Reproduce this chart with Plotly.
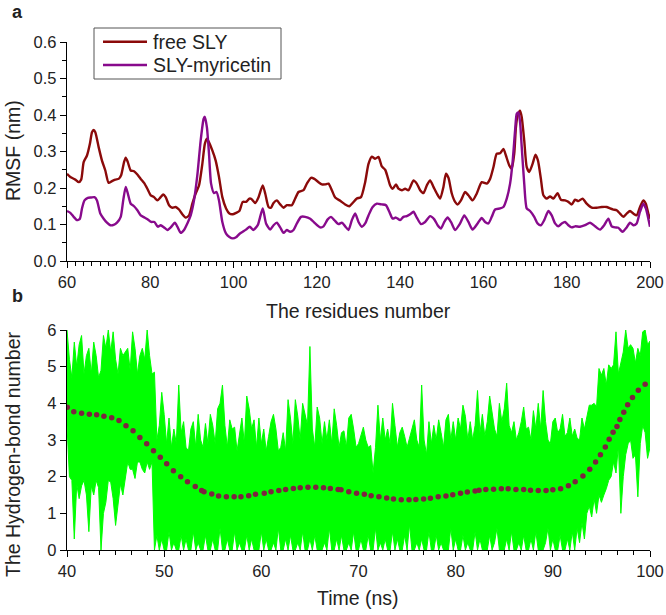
import plotly.graph_objects as go

# ---------------- panel a: RMSF ----------------
free_res = [60, 60.8, 62.0, 62.8, 63.4, 64.0, 64.8, 65.5, 66.0, 66.4, 66.8, 67.6, 68.4, 69.2, 70.0,
            70.8, 71.6, 72.4, 73.0, 73.7, 74.1, 74.6, 75.3, 76.1, 76.9, 77.7, 78.5, 79.3, 80.1, 80.9,
            81.7, 82.5, 83.1, 83.7, 84.5, 85.3, 86.1, 86.9, 87.7, 88.5, 89.3, 90.1, 90.9, 91.7, 92.5,
            93.1, 93.6, 94.1, 94.9, 95.7, 96.5, 97.3, 98.2, 99.0, 99.8, 100.6, 101.4, 102.2, 103.0,
            103.8, 104.3, 105.2, 106.0, 107.0, 107.6, 108.4, 109.0, 109.6, 110.4, 111.2, 112.0,
            112.8, 114.0, 114.8, 115.6, 116.8, 117.6, 118.6, 119.4, 120.4, 121.2, 122.0, 122.8,
            123.6, 124.4, 125.6, 126.8, 127.8, 128.6, 129.6, 130.6, 131.6, 132.4, 133.2, 134.0,
            134.8, 135.6, 136.4, 137.0, 137.6, 138.2, 139.0, 139.6, 140.4, 141.2, 142.0, 143.2,
            144.0, 144.8, 145.6, 146.4, 147.2, 148.0, 148.8, 149.6, 150.4, 151.0, 151.6, 152.4,
            153.2, 153.8, 154.6, 155.6, 156.4, 157.4, 158.4, 159.6, 160.8, 161.6, 162.4, 163.2,
            164.0, 164.8, 165.4, 166.2, 166.8, 167.4, 167.8, 168.2, 168.8, 169.2, 169.8, 170.4,
            171.0, 171.8, 172.5, 173.1, 173.8, 174.4, 175.2, 176.0, 176.8, 177.8, 178.6, 179.6,
            180.4, 181.2, 182.0, 182.8, 183.8, 184.8, 186.0, 187.2, 188.4, 189.6, 190.4, 191.2,
            192.0, 192.8, 193.6, 194.4, 195.2, 196.0, 196.8, 197.6, 198.4, 199.0, 199.6, 200.0]
free_rmsf = [0.239, 0.230, 0.223, 0.216, 0.223, 0.271, 0.289, 0.321, 0.353, 0.359, 0.353, 0.312, 0.275,
             0.248, 0.214, 0.219, 0.223, 0.225, 0.235, 0.271, 0.283, 0.271, 0.248, 0.246, 0.237, 0.225,
             0.214, 0.198, 0.180, 0.175, 0.166, 0.175, 0.182, 0.175, 0.153, 0.146, 0.148, 0.141, 0.128,
             0.119, 0.125, 0.157, 0.185, 0.207, 0.266, 0.321, 0.335, 0.325, 0.303, 0.275, 0.230, 0.175,
             0.144, 0.130, 0.128, 0.132, 0.137, 0.162, 0.162, 0.171, 0.170, 0.159, 0.175, 0.207, 0.185,
             0.148, 0.146, 0.159, 0.166, 0.155, 0.146, 0.153, 0.153, 0.171, 0.189, 0.194, 0.212, 0.228,
             0.225, 0.216, 0.210, 0.210, 0.212, 0.194, 0.174, 0.165, 0.155, 0.150, 0.159, 0.171, 0.175,
             0.216, 0.266, 0.286, 0.280, 0.285, 0.259, 0.250, 0.230, 0.207, 0.198, 0.210, 0.198, 0.194,
             0.198, 0.194, 0.221, 0.212, 0.194, 0.186, 0.207, 0.221, 0.203, 0.185, 0.171, 0.203, 0.239,
             0.228, 0.185, 0.162, 0.155, 0.166, 0.189, 0.180, 0.166, 0.185, 0.216, 0.212, 0.225, 0.257,
             0.294, 0.295, 0.307, 0.289, 0.262, 0.253, 0.294, 0.366, 0.398, 0.412, 0.394, 0.330, 0.257,
             0.244, 0.266, 0.291, 0.275, 0.225, 0.180, 0.171, 0.177, 0.171, 0.186, 0.168, 0.166, 0.162,
             0.155, 0.168, 0.164, 0.171, 0.157, 0.146, 0.146, 0.148, 0.148, 0.144, 0.141, 0.139, 0.130,
             0.121, 0.130, 0.137, 0.130, 0.125, 0.148, 0.166, 0.157, 0.130, 0.116]

myr_res = [60, 60.8, 61.6, 62.4, 63.1, 63.6, 64.2, 65.0, 65.8, 66.6, 67.2, 68.0, 68.8, 69.6, 70.4,
           71.2, 72.0, 72.9, 73.5, 74.1, 74.6, 75.3, 76.1, 76.9, 77.7, 78.6, 79.4, 80.2, 81.0, 81.8,
           82.5, 83.3, 84.1, 84.9, 85.9, 86.5, 87.3, 88.1, 88.9, 89.7, 90.5, 91.3, 92.1, 92.8, 93.1,
           93.6, 94.1, 94.6, 95.3, 95.9, 96.5, 97.3, 98.2, 99.0, 99.8, 100.6, 101.4, 102.2, 103.0,
           103.9, 104.7, 105.8, 107.0, 107.8, 108.8, 109.6, 110.4, 111.2, 112.0, 112.8, 113.6,
           114.4, 115.2, 116.2, 117.2, 118.4, 119.6, 120.8, 121.6, 122.6, 123.4, 124.2, 125.2,
           126.0, 126.8, 127.6, 128.4, 129.2, 130.0, 130.8, 131.6, 132.4, 133.4, 134.4, 135.6,
           136.6, 137.4, 138.2, 139.0, 140.0, 140.8, 141.6, 142.4, 143.2, 144.0, 145.0, 146.0,
           147.2, 148.2, 149.0, 149.8, 150.6, 151.4, 152.2, 153.2, 154.4, 155.4, 156.4, 157.4,
           158.6, 159.6, 160.4, 161.2, 162.0, 162.8, 164.0, 164.8, 165.6, 166.4, 167.0, 167.6,
           168.0, 168.4, 168.8, 169.2, 169.8, 170.4, 171.2, 172.2, 173.0, 173.8, 174.6, 175.6,
           176.4, 177.2, 178.0, 178.8, 179.6, 180.4, 181.2, 182.0, 183.2, 184.4, 185.6, 186.8,
           188.0, 189.0, 190.0, 190.8, 191.6, 192.4, 193.4, 194.4, 195.2, 196.0, 196.8, 197.6,
           198.4, 199.0, 199.6, 200.0]
myr_rmsf = [0.137, 0.132, 0.121, 0.112, 0.116, 0.144, 0.166, 0.173, 0.174, 0.175, 0.166, 0.130, 0.116,
            0.105, 0.098, 0.099, 0.105, 0.121, 0.166, 0.203, 0.185, 0.157, 0.150, 0.139, 0.125, 0.119,
            0.114, 0.107, 0.107, 0.094, 0.098, 0.092, 0.085, 0.092, 0.105, 0.094, 0.077, 0.085, 0.103,
            0.125, 0.166, 0.235, 0.330, 0.389, 0.395, 0.366, 0.294, 0.212, 0.186, 0.189, 0.166, 0.107,
            0.075, 0.066, 0.062, 0.065, 0.074, 0.080, 0.086, 0.094, 0.085, 0.098, 0.144, 0.103, 0.086,
            0.098, 0.105, 0.092, 0.077, 0.085, 0.080, 0.085, 0.103, 0.121, 0.121, 0.116, 0.103, 0.092,
            0.095, 0.114, 0.121, 0.112, 0.101, 0.105, 0.095, 0.085, 0.112, 0.130, 0.107, 0.094, 0.103,
            0.125, 0.148, 0.157, 0.155, 0.153, 0.135, 0.116, 0.119, 0.112, 0.121, 0.123, 0.128, 0.135,
            0.119, 0.101, 0.107, 0.123, 0.114, 0.098, 0.089, 0.107, 0.119, 0.107, 0.085, 0.103, 0.125,
            0.107, 0.086, 0.103, 0.118, 0.107, 0.103, 0.121, 0.141, 0.144, 0.148, 0.171, 0.212, 0.271,
            0.357, 0.403, 0.407, 0.380, 0.312, 0.212, 0.144, 0.137, 0.121, 0.103, 0.098, 0.112, 0.137,
            0.125, 0.103, 0.095, 0.103, 0.107, 0.098, 0.092, 0.095, 0.094, 0.098, 0.105, 0.095, 0.086,
            0.098, 0.116, 0.095, 0.092, 0.091, 0.080, 0.092, 0.105, 0.098, 0.103, 0.135, 0.157, 0.144,
            0.116, 0.094]

series_names = ["free SLY", "SLY-myricetin"]
series_colors = ["#8b0a0a", "#880a8c"]

# ---------------- panel b: hydrogen bonds ----------------
hb_start, hb_step, hb_count = 40.0, 0.25, 241
hb_upper = [
    6.0, 5.2, 4.7, 5.67,  5.0, 5.6, 5.85, 4.8,  5.3, 5.5, 4.8, 5.67,  5.3, 4.7, 4.9, 5.85,
    5.5, 6.0, 5.4, 5.95,  5.2, 4.8, 5.5, 5.3,  5.4, 5.5, 4.9, 5.95,  5.5, 4.8, 5.3, 5.5,
    5.2, 6.0, 5.3, 4.8,   4.85, 3.0, 3.4, 4.3,  3.7, 2.9, 3.6, 2.8,  3.3, 2.9, 4.5, 3.2,
    3.5, 2.8, 2.7, 3.3,   3.5, 2.8, 3.7, 3.0,  2.8, 3.45, 2.9, 3.7,  3.4, 2.9, 3.85, 4.0,
    4.5, 3.4, 2.8, 3.55,  3.3, 3.35, 2.7, 3.1,  3.6, 2.9, 4.2, 3.85,  3.3, 3.55, 2.8, 3.6,
    2.9, 3.3, 2.7, 3.1,   3.5, 3.7, 3.3, 2.7,  2.8, 3.2, 2.7, 4.1,  3.6, 2.9, 4.1, 3.65,
    3.0, 4.0, 3.65, 3.4,  5.55, 3.3, 2.8, 3.9,  3.6, 2.9, 3.5, 3.0,  3.55, 2.9, 3.85, 3.4,
    2.8, 3.2, 3.25, 2.8,  3.6, 3.7, 3.3, 2.8,  2.9, 3.1, 3.35, 3.0,  2.8, 2.85, 2.1, 2.8,
    3.95, 3.0, 3.6, 3.0,  3.3, 2.9, 4.0, 3.4,  2.8, 3.2, 3.35, 3.1,  2.8, 3.05, 3.3, 3.55,
    3.0, 2.8, 4.5, 3.0,   2.6, 3.5, 2.9, 3.4,  3.0, 3.55, 3.2, 2.8,  3.55, 3.7, 3.0, 3.5,
    3.0, 3.6, 3.3, 3.95,  3.65, 3.0, 3.5, 3.0,  3.4, 4.35, 3.2, 3.7,  3.1, 3.5, 4.2, 3.75,
    3.3, 3.1, 4.0, 3.5,   3.85, 4.55, 3.4, 3.2,  3.5, 3.0, 3.2, 3.5,  3.9, 3.3, 3.35, 3.0,
    3.8, 3.3, 4.0, 3.3,   4.35, 3.5, 3.0, 2.9,  3.5, 3.6, 3.2, 3.3,  3.7, 3.1, 3.2, 3.6,
    3.1, 3.3, 3.05, 3.0,  3.6, 3.3, 3.6, 3.95,  3.95, 4.0, 3.9, 4.95,  4.77, 4.95, 4.5, 5.05,
    4.95, 5.05, 5.95, 4.8,  5.1, 5.4, 6.0, 5.5,  5.6, 5.5, 5.1, 5.5,  5.3, 5.95, 6.0, 5.6,
    5.7]
hb_lower = [
    3.4, 2.0, 1.9, 0.3,   1.8, 1.4, 1.75, 1.9,  1.5, 0.5, 1.75, 1.5,  1.9, 1.7, 0.0, 1.0,
    1.3, 1.9, 1.85, 1.4,  0.67, 1.2, 1.8, 1.5,  1.95, 2.4, 2.2, 2.2,  1.95, 2.4, 2.4, 2.2,
    2.1, 2.4, 2.2, 2.4,   0.0, 0.4, 0.0, 0.3,  0.0, 0.0, 0.5, 0.0,  0.2, 0.0, 0.0, 0.4,
    0.0, 0.3, 0.0, 0.0,   0.5, 0.0, 0.2, 0.0,  0.0, 0.4, 0.0, 0.0,  0.3, 0.0, 0.0, 0.6,
    0.0, 0.0, 0.3, 0.0,   0.0, 0.5, 0.0, 0.2,  0.0, 0.0, 0.4, 0.0,  0.3, 0.0, 0.0, 0.0,
    0.5, 0.0, 0.3, 0.0,   0.0, 0.2, 0.0, 0.6,  0.0, 0.0, 0.3, 0.0,  0.4, 0.0, 0.0, 0.2,
    0.0, 0.5, 0.0, 0.0,   0.3, 0.0, 0.4, 0.0,  0.0, 0.0, 0.2, 0.0,  0.6, 0.0, 0.0, 0.3,
    0.0, 0.4, 0.0, 0.0,   0.2, 0.0, 0.5, 0.0,  0.0, 0.3, 0.0, 0.0,  0.4, 0.0, 0.0, 0.6,
    0.0, 0.2, 0.0, 0.3,   0.0, 0.0, 0.5, 0.0,  0.3, 0.0, 0.0, 0.4,  0.0, 0.7, 0.0, 0.0,
    0.2, 0.0, 0.3, 0.0,   0.0, 0.5, 0.0, 0.0,  0.4, 0.0, 0.2, 0.0,  0.0, 0.0, 0.6, 0.0,
    0.3, 0.0, 0.0, 0.4,   0.0, 0.2, 0.0, 0.0,  0.5, 0.0, 0.3, 0.0,  0.0, 0.0, 0.4, 0.0,
    0.2, 0.6, 0.0, 0.0,   0.0, 0.3, 0.0, 0.5,  0.0, 0.0, 0.2, 0.0,  0.4, 0.0, 0.0, 0.3,
    0.0, 0.5, 0.0, 0.0,   0.0, 0.2, 0.6, 0.0,  0.3, 0.0, 0.0, 0.4,  0.0, 0.0, 0.3, 0.0,
    0.5, 0.0, 0.6, 0.2,   0.75, 0.3, 1.0, 1.2,  0.9, 1.4, 1.0, 1.5,  1.3, 1.5, 1.67, 1.9,
    2.0, 2.4, 2.1, 2.85,  1.0, 2.0, 2.6, 2.9,  3.0, 2.5, 2.6, 1.45,  2.9, 3.4, 3.2, 2.5,
    2.8]
hb_time = [hb_start + hb_step * i for i in range(hb_count)]

# smoothed curve (dots as drawn in the figure)
fit_time = [40.03, 40.7, 41.5, 42.3, 43.05, 43.8, 44.6, 45.35, 46.07, 46.8, 47.5, 48.2, 48.9, 49.6,
            50.26, 50.95, 51.7, 52.4, 53.2, 53.86, 54.1, 54.9, 55.6, 56.4, 57.2, 57.9, 58.7, 59.4,
            60.3, 61.0, 61.8, 62.5, 63.3, 64.0, 64.8, 65.6, 66.4, 67.1, 67.9, 68.2, 69.0, 69.8,
            70.6, 71.3, 72.1, 72.9, 73.6, 74.4, 75.2, 75.9, 76.7, 77.4, 78.2, 79.0, 79.7, 80.5,
            81.2, 82.0, 82.4, 83.1, 83.9, 84.7, 85.4, 86.2, 87.0, 87.7, 88.5, 89.3, 90.0, 90.8,
            91.6, 92.3, 93.1, 93.8, 94.4, 94.9, 95.4, 95.8, 96.2, 96.6, 96.9, 97.3, 97.7, 98.2,
            98.8, 99.5]
fit_hb = [3.89, 3.77, 3.73, 3.70, 3.69, 3.65, 3.61, 3.53, 3.39, 3.25, 3.07, 2.90, 2.71, 2.53,
          2.35, 2.16, 2.00, 1.86, 1.73, 1.62, 1.59, 1.53, 1.47, 1.45, 1.45, 1.45, 1.48, 1.52,
          1.55, 1.59, 1.62, 1.65, 1.68, 1.70, 1.71, 1.71, 1.70, 1.68, 1.65, 1.64, 1.59, 1.55,
          1.52, 1.48, 1.45, 1.42, 1.39, 1.37, 1.37, 1.38, 1.39, 1.41, 1.45, 1.47, 1.51, 1.55,
          1.58, 1.61, 1.63, 1.65, 1.66, 1.67, 1.67, 1.65, 1.65, 1.63, 1.62, 1.62, 1.64, 1.67,
          1.75, 1.86, 2.02, 2.20, 2.40, 2.60, 2.81, 3.02, 3.21, 3.37, 3.56, 3.76, 3.96, 4.16,
          4.36, 4.52]

# ---------------- figure ----------------
FONT = "Liberation Sans, Arial, sans-serif"
W, H = 666, 615
ML, MR, MT, MB = 67, 16, 42, 65
PW, PH = W - ML - MR, H - MT - MB


def py(p):  # pixel row -> paper y
    return (H - MB - p) / PH


def px(p):  # pixel column -> paper x
    return (p - ML) / PW


fig = go.Figure()
fig.add_trace(go.Scatter(x=free_res, y=free_rmsf, mode="lines", name=series_names[0],
                         showlegend=False,
                         line=dict(color=series_colors[0], width=2.4, shape="spline", smoothing=0.6),
                         xaxis="x", yaxis="y"))
fig.add_trace(go.Scatter(x=myr_res, y=myr_rmsf, mode="lines", name=series_names[1],
                         showlegend=False,
                         line=dict(color=series_colors[1], width=2.4, shape="spline", smoothing=0.6),
                         xaxis="x", yaxis="y"))

fig.add_trace(go.Scatter(x=hb_time, y=hb_lower, mode="lines", showlegend=False,
                         line=dict(color="#00ff00", width=1), xaxis="x2", yaxis="y2",
                         hoverinfo="skip"))
fig.add_trace(go.Scatter(x=hb_time, y=hb_upper, mode="lines", showlegend=False,
                         line=dict(color="#00ff00", width=1), fill="tonexty", fillcolor="#00ff00",
                         xaxis="x2", yaxis="y2"))
fig.add_trace(go.Scatter(x=fit_time, y=fit_hb, mode="markers", showlegend=False,
                         marker=dict(color="#7d2540", size=5.5), xaxis="x2", yaxis="y2"))

axis_common = dict(showline=True, linecolor="black", linewidth=1.3, ticks="outside",
                   ticklen=6, tickwidth=1.3, tickcolor="black", showgrid=False, zeroline=False,
                   tickfont=dict(family=FONT, size=16.5, color="#222"), mirror=False)

fig.update_layout(
    width=W, height=H,
    margin=dict(l=ML, r=MR, t=MT, b=MB, autoexpand=False),
    paper_bgcolor="white", plot_bgcolor="white",
    font=dict(family=FONT, color="#222"),
    xaxis=dict(domain=[0, 1], anchor="y", range=[60, 200], dtick=20, tick0=60,
               minor=dict(dtick=2, ticks="outside", ticklen=3.5, tickwidth=1.1, tickcolor="black"),
               **axis_common),
    yaxis=dict(domain=[py(261), py(42)], anchor="x", range=[0, 0.6], dtick=0.1, tickformat=".1f",
               minor=dict(dtick=0.05, ticks="outside", ticklen=3.5, tickwidth=1.1, tickcolor="black"),
               **axis_common),
    xaxis2=dict(domain=[0, 1], anchor="y2", range=[40, 100], dtick=10, tick0=40,
                minor=dict(dtick=10 / 6, tick0=40, ticks="outside", ticklen=3.5, tickwidth=1.1,
                           tickcolor="black"),
                **axis_common),
    yaxis2=dict(domain=[0, py(330)], anchor="x2", range=[0, 6], dtick=1, **axis_common),
    showlegend=False,
)

# legend box (panel a), drawn with shapes + text to match the original's compact spacing
fig.add_shape(type="rect", xref="paper", yref="paper", x0=px(94), x1=px(281), y0=py(79), y1=py(28),
              line=dict(color="#555", width=1), fillcolor="white", layer="above")
legend_rows = [41.7, 65.0]
for name, color, row in zip(series_names, series_colors, legend_rows):
    fig.add_shape(type="line", xref="paper", yref="paper", x0=px(103), x1=px(147),
                  y0=py(row), y1=py(row), line=dict(color=color, width=2.4), layer="above")
    fig.add_annotation(text=name, xref="paper", yref="paper", x=px(151), y=py(row),
                       xanchor="left", yanchor="middle", showarrow=False,
                       font=dict(family=FONT, size=19.5, color="#222"))

ann = [
    dict(text="<b>a</b>", x=px(10), y=py(12), xanchor="left", yanchor="middle", font_size=18),
    dict(text="<b>b</b>", x=px(10), y=py(296), xanchor="left", yanchor="middle", font_size=18),
    dict(text="The residues number", x=px(358), y=py(311), xanchor="center", yanchor="middle",
         font_size=19.5),
    dict(text="Time (ns)", x=px(358), y=py(598), xanchor="center", yanchor="middle", font_size=19.5),
    dict(text="RMSF (nm)", x=px(13), y=py(151), xanchor="center", yanchor="middle",
         textangle=-90, font_size=19.5),
    dict(text="The Hydrogen-bond number", x=px(13), y=py(455), xanchor="center", yanchor="middle",
         textangle=-90, font_size=19.5),
]
for a in ann:
    a.update(xref="paper", yref="paper", showarrow=False)
    a["font"] = dict(family=FONT, size=a.pop("font_size"), color="#222")
    fig.add_annotation(**a)

fig.write_html("out.html", config={"displayModeBar": False})

# remove the browser's default page margin so the figure sits at the window's corner
with open("out.html", encoding="utf-8") as fh:
    page = fh.read()
page = page.replace("<head>", "<head><style>html,body{margin:0;padding:0;overflow:hidden;}</style>", 1)
with open("out.html", "w", encoding="utf-8") as fh:
    fh.write(page)
